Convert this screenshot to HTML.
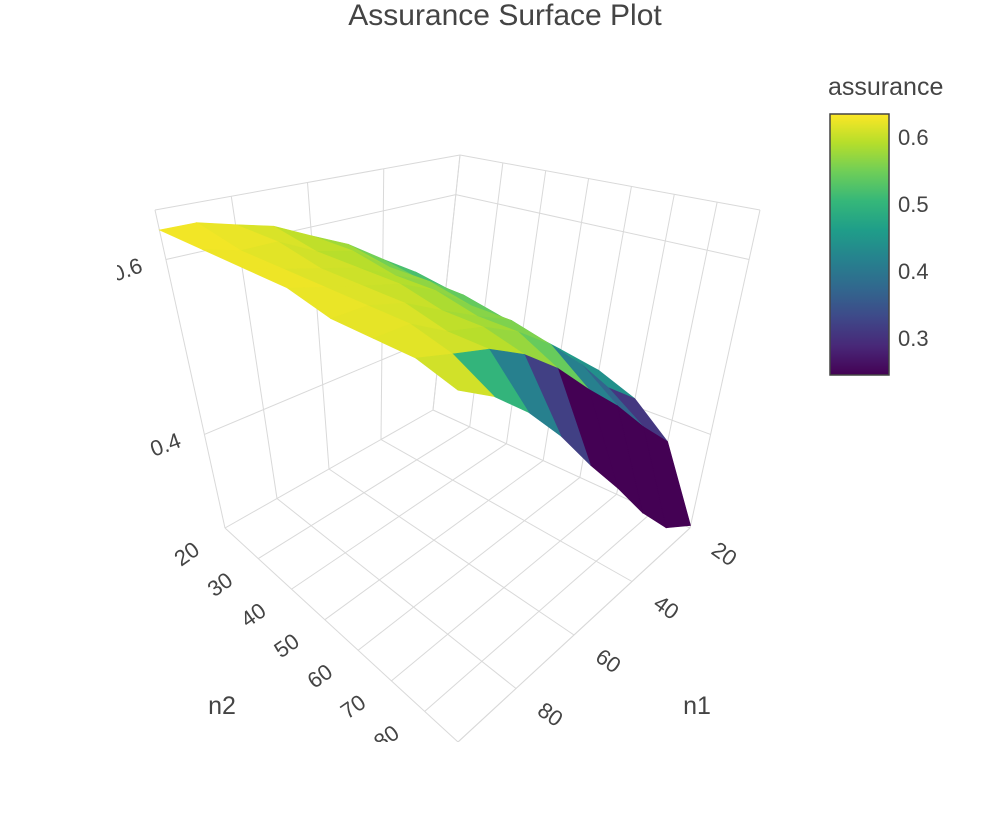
<!DOCTYPE html>
<html><head><meta charset="utf-8"><style>
body{margin:0;background:#fff;font-family:"Liberation Sans",sans-serif;}
svg text{font-family:"Liberation Sans",sans-serif;fill:#444;}
</style></head><body>
<svg id="chart" width="1006" height="818" viewBox="0 0 1006 818">
<defs>
<linearGradient id="vir" x1="0" y1="1" x2="0" y2="0">
<stop offset="0" stop-color="#440154"/><stop offset="0.111" stop-color="#482878"/><stop offset="0.222" stop-color="#3e4989"/><stop offset="0.333" stop-color="#31688e"/><stop offset="0.444" stop-color="#26828e"/><stop offset="0.556" stop-color="#1f9e89"/><stop offset="0.667" stop-color="#35b779"/><stop offset="0.778" stop-color="#6ece58"/><stop offset="0.889" stop-color="#b5de2b"/><stop offset="1" stop-color="#fde725"/>
</linearGradient>
<clipPath id="sceneclip"><rect x="117" y="0" width="900" height="742"/></clipPath>
</defs>
<text x="505" y="25" text-anchor="middle" font-size="30">Assurance Surface Plot</text>
<g id="scene" clip-path="url(#sceneclip)"></g>
<g>
<text x="828" y="95" font-size="25">assurance</text>
<rect x="830" y="114" width="59" height="261" fill="url(#vir)" stroke="#444" stroke-width="1.5"/>
<g id="cbticks"></g>
</g>
</svg>
<script>
const n1Vals=[20,30,40,50,60,70,80,90,100];
const n2Vals=[20,30,40,50,60,70,80,90];
const zRows=[
[0.47,0.51,0.54,0.57,0.59,0.61,0.62,0.63,0.63],
[0.46,0.50,0.53,0.56,0.59,0.60,0.62,0.62,0.63],
[0.45,0.49,0.53,0.56,0.58,0.60,0.61,0.62,0.63],
[0.44,0.48,0.52,0.55,0.58,0.60,0.61,0.62,0.63],
[0.43,0.47,0.51,0.55,0.57,0.59,0.61,0.62,0.62],
[0.41,0.45,0.50,0.54,0.57,0.59,0.60,0.62,0.62],
[0.37,0.42,0.47,0.51,0.55,0.58,0.60,0.61,0.62],
[0.25,0.30,0.36,0.42,0.47,0.52,0.56,0.59,0.61]];
const n1Ticks=[20,40,60,80];
const n2Ticks=[20,30,40,50,60,70,80,90];
const zTicks=[0.4,0.6];
const cbTicks=[0.3,0.4,0.5,0.6];
const NS="http://www.w3.org/2000/svg";
const n1Min=20,n1Max=100,n2Min=20,n2Max=90,zMin=0.24,zMax=0.65,cbMin=0.245,cbMax=0.634;
const F0={B:[433,410],L:[225,528],R:[690,528],F:[458,742]};
const F1={B:[460,155],L:[155,210],R:[760,210],F:[458,340]};
function bil(P,a,b){const x=(1-a)*(1-b)*P.B[0]+a*(1-b)*P.L[0]+(1-a)*b*P.R[0]+a*b*P.F[0];
const y=(1-a)*(1-b)*P.B[1]+a*(1-b)*P.L[1]+(1-a)*b*P.R[1]+a*b*P.F[1];return [x,y];}
function proj(n1,n2,z){const a=(n1-n1Min)/(n1Max-n1Min),b=(n2-n2Min)/(n2Max-n2Min);
let c=(z-zMin)/(zMax-zMin);c=c>0?Math.pow(c,1.3):c;
const p=bil(F0,a,b),q=bil(F1,a,b);return [p[0]+(q[0]-p[0])*c,p[1]+(q[1]-p[1])*c];}
const stops=[[68,1,84],[72,40,120],[62,73,137],[49,104,142],[38,130,142],[31,158,137],[53,183,121],[110,206,88],[181,222,43],[253,231,37]];
function vir(z){let t=(z-cbMin)/(cbMax-cbMin);t=Math.max(0,Math.min(1,t));const s=t*9,i=Math.min(8,Math.floor(s)),f=s-i;
const c=stops[i].map((v,k)=>Math.round(v+(stops[i+1][k]-v)*f));return `rgb(${c[0]},${c[1]},${c[2]})`;}
const scene=document.getElementById('scene');
function line(p,q,name){const l=document.createElementNS(NS,'line');l.setAttribute('x1',p[0]);l.setAttribute('y1',p[1]);l.setAttribute('x2',q[0]);l.setAttribute('y2',q[1]);
l.setAttribute('stroke','#d9d9d9');l.setAttribute('stroke-width','1');


scene.appendChild(l);}
function text(x,y,s,rot,name,anchor,size){const t=document.createElementNS(NS,'text');t.setAttribute('x',x);t.setAttribute('y',y);t.setAttribute('font-size',size||'22');
t.setAttribute('text-anchor',anchor||'middle');t.setAttribute('transform',`rotate(${rot} ${x} ${y})`);t.textContent=s;


scene.appendChild(t);}
n1Ticks.forEach(v=>line(proj(v,n2Min,zMin),proj(v,n2Max,zMin),'floor-gridline-n1'));
n2Ticks.forEach(v=>line(proj(n1Min,v,zMin),proj(n1Max,v,zMin),'floor-gridline-n2'));
n1Ticks.concat([n1Max]).forEach(v=>line(proj(v,n2Min,zMin),proj(v,n2Min,zMax),'wall-gridline-n1'));
zTicks.forEach(v=>line(proj(n1Min,n2Min,v),proj(n1Max,n2Min,v),'wall-gridline-z'));
n2Ticks.forEach(v=>line(proj(n1Min,v,zMin),proj(n1Min,v,zMax),'wall-gridline-n2'));
zTicks.forEach(v=>line(proj(n1Min,n2Min,v),proj(n1Min,n2Max,v),'wall-gridline-z'));
line(proj(n1Min,n2Min,zMax),proj(n1Max,n2Min,zMax),'box-edge');
line(proj(n1Min,n2Min,zMax),proj(n1Min,n2Max,zMax),'box-edge');
line(proj(n1Max,n2Min,zMin),proj(n1Max,n2Max,zMin),'box-edge');
line(proj(n1Min,n2Max,zMin),proj(n1Max,n2Max,zMin),'box-edge');
const quads=[];
for(let j=0;j<n2Vals.length-1;j++)for(let i=0;i<n1Vals.length-1;i++){
const pts=[[i,j],[i+1,j],[i+1,j+1],[i,j+1]];
const zs=pts.map(p=>zRows[p[1]][p[0]]);
const drop=((zRows[j][i]-zRows[j+1][i])+(zRows[j][i+1]-zRows[j+1][i+1]))/2;
const d=(n1Vals[i]+n1Vals[i+1])/2/n1Max+(n2Vals[j]+n2Vals[j+1])/2/n2Max;
quads.push({pts,zs,d,drop});}
quads.sort((a,b)=>a.d-b.d);
quads.forEach(q=>{const poly=document.createElementNS(NS,'polygon');
const P=q.pts.map(p=>proj(n1Vals[p[0]],n2Vals[p[1]],zRows[p[1]][p[0]]));
poly.setAttribute('points',P.map(p=>p.join(',')).join(' '));
let zc=q.zs.reduce((s,v)=>s+v,0)/4;
if(q.drop>0.025) zc-=3*q.drop;
poly.setAttribute('fill',vir(zc));poly.setAttribute('stroke',vir(zc));poly.setAttribute('stroke-width','0.6');


scene.appendChild(poly);});
n2Ticks.forEach(v=>{const p=proj(n1Max,v,zMin);text(p[0]-34,p[1]+32,String(v),-35,'n2-tick-label');});
n1Ticks.forEach(v=>{const p=proj(v,n2Max,zMin);text(p[0]+30,p[1]+32,String(v),35,'n1-tick-label');});
zTicks.forEach(v=>{const p=proj(n1Max,n2Min,v);text(p[0]-22,p[1]+12,v.toFixed(1),-20,'z-tick-label','end');});
text(222,714,'n2',0,'n2-axis-title','middle','25');
text(697,714,'n1',0,'n1-axis-title','middle','25');
const cb=document.getElementById('cbticks');
cbTicks.forEach(v=>{const y=375-(v-cbMin)/(cbMax-cbMin)*261;const t=document.createElementNS(NS,'text');
t.setAttribute('x',898);t.setAttribute('y',y+8);t.setAttribute('font-size','22');t.textContent=v.toFixed(1);


cb.appendChild(t);});
</script>
</body></html>
